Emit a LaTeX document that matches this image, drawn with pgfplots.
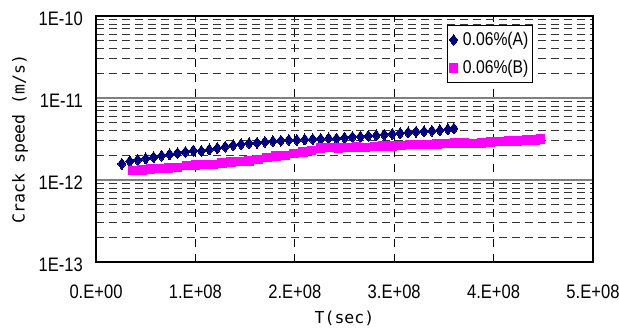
\documentclass[border=0pt]{standalone}
\usepackage{pgfplots}
\pgfplotsset{compat=1.18}
\usepackage{fontspec}
\setmainfont{Liberation Sans}[FakeStretch=0.85]
\newfontfamily\labelfont{DejaVu Sans Mono}
\definecolor{navyA}{HTML}{000080}
\definecolor{magB}{HTML}{FF00FF}
\pgfplotstableread{
x y
2.6e7 1.58e-12
3.4e7 1.70e-12
4.2e7 1.76e-12
5.0e7 1.83e-12
5.8e7 1.90e-12
6.6e7 1.98e-12
7.4e7 2.06e-12
8.2e7 2.13e-12
9.0e7 2.20e-12
9.8e7 2.29e-12
10.6e7 2.26e-12
11.4e7 2.36e-12
12.2e7 2.45e-12
13.0e7 2.55e-12
13.8e7 2.66e-12
14.6e7 2.74e-12
15.4e7 2.80e-12
16.2e7 2.85e-12
17.0e7 2.92e-12
17.8e7 2.98e-12
18.6e7 3.02e-12
19.4e7 3.08e-12
20.2e7 3.08e-12
21.0e7 3.12e-12
21.8e7 3.15e-12
22.6e7 3.18e-12
23.4e7 3.22e-12
24.2e7 3.20e-12
25.0e7 3.28e-12
25.8e7 3.35e-12
26.6e7 3.38e-12
27.4e7 3.45e-12
28.2e7 3.50e-12
29.0e7 3.58e-12
29.8e7 3.65e-12
30.6e7 3.72e-12
31.4e7 3.80e-12
32.2e7 3.88e-12
33.0e7 3.92e-12
33.8e7 3.98e-12
34.6e7 4.05e-12
35.4e7 4.15e-12
36.0e7 4.25e-12
}\dataA
\pgfplotstableread{
x y
3.7e7 1.30e-12
4.6e7 1.33e-12
5.5e7 1.36e-12
6.4e7 1.38e-12
7.3e7 1.40e-12
8.2e7 1.42e-12
9.1e7 1.50e-12
10.0e7 1.52e-12
10.9e7 1.55e-12
11.8e7 1.55e-12
12.7e7 1.60e-12
13.6e7 1.65e-12
14.5e7 1.68e-12
15.4e7 1.70e-12
16.3e7 1.78e-12
17.2e7 1.88e-12
18.1e7 1.95e-12
19.0e7 2.00e-12
19.9e7 2.10e-12
20.8e7 2.18e-12
21.7e7 2.30e-12
22.6e7 2.45e-12
23.5e7 2.48e-12
24.4e7 2.45e-12
25.3e7 2.50e-12
26.2e7 2.52e-12
27.1e7 2.50e-12
28.0e7 2.55e-12
28.9e7 2.58e-12
29.8e7 2.62e-12
30.7e7 2.65e-12
31.6e7 2.70e-12
32.5e7 2.70e-12
33.4e7 2.72e-12
34.3e7 2.75e-12
35.2e7 2.80e-12
36.1e7 2.85e-12
37.0e7 2.82e-12
37.9e7 2.80e-12
38.8e7 2.85e-12
39.7e7 2.90e-12
40.6e7 2.95e-12
41.5e7 3.00e-12
42.4e7 3.00e-12
43.3e7 3.05e-12
44.2e7 3.10e-12
44.7e7 3.15e-12
}\dataB
\begin{document}
\begin{tikzpicture}
\begin{axis}[
  ymode=log,
  scale only axis,
  width=497pt, height=246pt,
  xmin=0, xmax=5e8,
  ymin=1e-13, ymax=1e-10,
  xtick={0,1e8,2e8,3e8,4e8,5e8},
  xticklabels={0.E+00,1.E+08,2.E+08,3.E+08,4.E+08,5.E+08},
  ytick={1e-13,1e-12,1e-11,1e-10},
  yticklabels={1E-13,1E-12,1E-11,1E-10},
  minor ytick={2e-13,3e-13,4e-13,5e-13,6e-13,7e-13,8e-13,9e-13,
               2e-12,3e-12,4e-12,5e-12,6e-12,7e-12,8e-12,9e-12,
               2e-11,3e-11,4e-11,5e-11,6e-11,7e-11,8e-11,9e-11},
  major tick length=0pt, minor tick length=0pt,
  scaled x ticks=false,
  xmajorgrids=true, ymajorgrids=true, yminorgrids=true,
  x grid style={black, line width=0.8pt, dash pattern=on 8pt off 7pt},
  major y grid style={gray, line width=1.3pt},
  minor y grid style={black!80, line width=0.8pt, dash pattern=on 8pt off 5pt},
  axis line style={black, line width=1.3pt},
  /pgf/number format/assume math mode=true,
  tick label style={font=\fontsize{19.5pt}{22pt}\selectfont},
  xticklabel style={anchor=center, yshift=-30pt},
  yticklabel style={anchor=east, inner sep=0pt, xshift=-13pt, yshift=-3pt},
  xlabel={T(sec)},
  ylabel={Crack speed (m/s)},
  label style={font=\labelfont\fontsize{16.5pt}{19pt}\selectfont},
  xlabel style={at={(axis description cs:0.5,0)}, anchor=center, yshift=-56pt},
  ylabel style={at={(axis description cs:-0.153,0.5)}, anchor=center},
  legend style={at={(rel axis cs:0.879,0.963)}, anchor=north east,
    draw=black, line width=0.8pt, fill=white,
    font=\fontsize{18.5pt}{21pt}\selectfont,
    row sep=9pt, inner xsep=2pt, inner ysep=5pt,
    /tikz/every odd column/.append style={column sep=3pt}},
  legend cell align=left,
]
\addplot[only marks, mark=diamond*, mark size=5.5pt, color=navyA, mark options={line width=0pt}] table[x=x,y=y]{\dataA};
\addlegendentry{0.06\%(A)}
\addplot[only marks, mark=square*, mark size=4.3pt, color=magB, mark options={line width=0pt}] table[x=x,y=y]{\dataB};
\addlegendentry{0.06\%(B)}
\end{axis}
\pgfresetboundingbox
\path (current axis.south west) ++(-96pt,-69pt) rectangle ++(619pt,331pt);
\end{tikzpicture}
\end{document}
